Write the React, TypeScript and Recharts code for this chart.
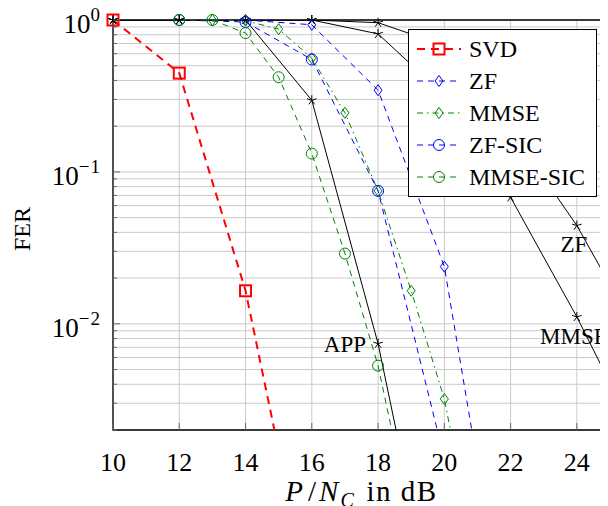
import React from "react";
import {
  LineChart,
  Line,
  XAxis,
  YAxis,
  CartesianGrid,
  Legend,
  ReferenceArea,
} from "recharts";

const FONT = "'Liberation Serif', 'DejaVu Serif', 'Times New Roman', serif";

// x axis ticks (dB) and log-axis grid values
const snrTicks = [10, 12, 14, 16, 18, 20, 22, 24];
const ferTicks = [
  0.002, 0.003, 0.004, 0.005, 0.006, 0.007, 0.008, 0.009,
  0.01, 0.02, 0.03, 0.04, 0.05, 0.06, 0.07, 0.08, 0.09,
  0.1, 0.2, 0.3, 0.4, 0.5, 0.6, 0.7, 0.8, 0.9,
  1,
];
const decadeExp: Record<number, string> = { 1: "0", 0.1: "\u22121", 0.01: "\u22122" };

// legend series
const svdSnr = [10, 12, 14, 16];
const svdFer = [1, 0.447, 0.0165, 0.00013];
const zfSnr = [14, 16, 18, 20, 22];
const zfFer = [1, 0.93, 0.345, 0.0238, 0.00006];
const mmseSnr = [13, 14, 15, 16, 17, 18, 19, 20, 21];
const mmseFer = [1, 0.99, 0.87, 0.56, 0.245, 0.075, 0.0165, 0.0032, 0.00025];
const zfSicSnr = [12, 14, 16, 18, 20];
const zfSicFer = [1, 0.97, 0.55, 0.075, 0.0013];
const mmseSicSnr = [12, 13, 14, 15, 16, 17, 18, 19];
const mmseSicFer = [1, 1, 0.82, 0.42, 0.132, 0.029, 0.0053, 0.0005];

// reference curves (black, labelled in the plot)
const appSnr = [10, 12, 14, 16, 18, 20];
const appFer = [1, 1, 1, 0.296, 0.0074, 0.00006];
const refSnr = [10, 12, 14, 16, 18, 20, 22, 24, 26];
const zfRefFer = [1, 1, 1, 1, 0.96, 0.68, 0.19, 0.0443, 0.0074];
const mmseRefFer = [1, 1, 1, 1, 0.81, 0.32, 0.068, 0.0111, 0.0015];

const toPoints = (snr: number[], fer: number[]) =>
  snr.map((s, i) => ({ snr: s, fer: fer[i] }));

type Shape = "square" | "diamond" | "circle" | "star";

function marker(shape: Shape, cx: number, cy: number, color: string, width: number) {
  if (shape === "square") {
    return <rect x={cx - 5.5} y={cy - 5.5} width={11} height={11} fill="none" stroke={color} strokeWidth={width} />;
  }
  if (shape === "diamond") {
    return (
      <polygon
        points={`${cx},${cy - 5.5} ${cx + 4},${cy} ${cx},${cy + 5.5} ${cx - 4},${cy}`}
        fill="none"
        stroke={color}
        strokeWidth={width}
      />
    );
  }
  if (shape === "circle") {
    return <circle cx={cx} cy={cy} r={5.5} fill="none" stroke={color} strokeWidth={width} />;
  }
  const spokes = [0, 1, 2, 3, 4].map((k) => {
    const a = ((-90 + k * 72) * Math.PI) / 180;
    return <line key={k} x1={cx} y1={cy} x2={cx + 5 * Math.cos(a)} y2={cy + 5 * Math.sin(a)} stroke={color} strokeWidth={width} />;
  });
  return <g>{spokes}</g>;
}

function MarkerDot(props: any) {
  const { cx, cy, index, kind, mcolor, mw, text, labelAt, ldx, ldy, anchor } = props;
  if (cx == null || cy == null) return null;
  return (
    <g>
      {marker(kind, cx, cy, mcolor, mw)}
      {text && index === labelAt && (
        <text x={cx + ldx} y={cy + ldy} textAnchor={anchor} fontFamily={FONT} fontSize={23} fill="#000">
          {text}
        </text>
      )}
    </g>
  );
}

// element-as-dot, with clipDot off so markers on the plot border are not cut in half
const dotOption = (el: React.ReactElement) => ({ ...(el as any), clipDot: false, r: 8 });

const series = [
  { name: "SVD", snr: svdSnr, fer: svdFer, color: "#ff0000", width: 2, dash: "8 6", shape: "square" as Shape, mw: 2 },
  { name: "ZF", snr: zfSnr, fer: zfFer, color: "#0000ff", width: 1, dash: "6 5", shape: "diamond" as Shape, mw: 1 },
  { name: "MMSE", snr: mmseSnr, fer: mmseFer, color: "#008000", width: 1, dash: "6 4 1.5 4", shape: "diamond" as Shape, mw: 1 },
  { name: "ZF-SIC", snr: zfSicSnr, fer: zfSicFer, color: "#0000ff", width: 1, dash: "6 5", shape: "circle" as Shape, mw: 1 },
  { name: "MMSE-SIC", snr: mmseSicSnr, fer: mmseSicFer, color: "#008000", width: 1, dash: "6 5", shape: "circle" as Shape, mw: 1 },
];

const references = [
  { name: "APP", snr: appSnr, fer: appFer, labelAt: 4, dx: -12, dy: 8, anchor: "end" },
  { name: "ZF", snr: refSnr, fer: zfRefFer, labelAt: 7, dx: -3, dy: 26, anchor: "middle" },
  { name: "MMSE", snr: refSnr, fer: mmseRefFer, labelAt: 7, dx: -3, dy: 27, anchor: "middle" },
];

function FerTick(props: any) {
  const { x, y, payload } = props;
  const exp = decadeExp[payload.value];
  const major = exp !== undefined;
  return (
    <g>
      <line x1={x} x2={x + (major ? 7 : 4)} y1={y} y2={y} stroke="#666" />
      {major && (
        <text x={x - 12} y={y + 13} textAnchor="end" fontFamily={FONT} fontSize={27} fill="#000">
          10
          <tspan dy={-12} fontSize={19} letterSpacing={1}>
            {exp}
          </tspan>
        </text>
      )}
    </g>
  );
}

function SnrTick(props: any) {
  const { x, y, payload } = props;
  return (
    <g>
      <line x1={x} x2={x} y1={y} y2={y - 7} stroke="#666" />
      <text x={x} y={y + 41} textAnchor="middle" fontFamily={FONT} fontSize={26} fill="#000">
        {payload.value}
      </text>
    </g>
  );
}

function LegendBox() {
  return (
    <div
      style={{
        boxSizing: "border-box",
        width: 189,
        background: "#fff",
        border: "1.3px solid #000",
        padding: "3px 6px 3px 8px",
        fontFamily: FONT,
        fontSize: 24,
        color: "#000",
      }}
    >
      {series.map((s) => (
        <div key={s.name} style={{ display: "flex", alignItems: "center", height: 32 }}>
          <svg width={44} height={20} style={{ marginRight: 8 }}>
            <line x1={0} x2={44} y1={10} y2={10} stroke={s.color} strokeWidth={s.width} strokeDasharray={s.dash} />
            {marker(s.shape, 22, 10, s.color, s.mw)}
          </svg>
          <span>{s.name}</span>
        </div>
      ))}
    </div>
  );
}

export default function App() {
  return (
    <div style={{ width: 600, height: 498, overflow: "hidden" }}>
      <LineChart width={610} height={498} margin={{ top: 12, right: 8, bottom: 0, left: 0 }}>
        <CartesianGrid stroke="#cbcbcb" strokeWidth={1} />
        <XAxis
          dataKey="snr"
          type="number"
          domain={[10, 25]}
          ticks={snrTicks}
          allowDataOverflow
          height={76}
          axisLine={false}
          tickLine={false}
          tickSize={0}
          tickMargin={0}
          tick={<SnrTick />}
          label={{
            content: (p: any) => {
              const vb = p.viewBox || { x: 105, y: 422, width: 497, height: 76 };
              return (
                <text x={vb.x + vb.width / 2} y={vb.y + 71} textAnchor="middle" fontFamily={FONT} fontSize={29} fill="#000">
                  <tspan fontStyle="italic">P</tspan>
                  <tspan dx={5}>/</tspan>
                  <tspan dx={3} fontStyle="italic">N</tspan>
                  <tspan dx={2} fontStyle="italic" fontSize={20} dy={6}>C</tspan>
                  <tspan dx={4} dy={-6} letterSpacing={1.5}> in dB</tspan>
                </text>
              );
            },
          }}
        />
        <YAxis
          type="number"
          scale="log"
          domain={[0.002, 1]}
          ticks={ferTicks}
          allowDataOverflow
          width={105}
          axisLine={false}
          tickLine={false}
          tickSize={0}
          tickMargin={0}
          interval={0}
          tick={<FerTick />}
          label={{
            content: (p: any) => {
              const vb = p.viewBox || { x: 0, y: 12, width: 105, height: 410 };
              const cy = vb.y + vb.height / 2 + 4;
              return (
                <text
                  x={14}
                  y={cy}
                  transform={`rotate(-90, 14, ${cy})`}
                  textAnchor="middle"
                  dominantBaseline="central"
                  fontFamily={FONT}
                  fontSize={24}
                  fill="#000"
                >
                  FER
                </text>
              );
            },
          }}
        />
        {references.map((r) => (
          <Line
            key={"ref-" + r.name}
            data={toPoints(r.snr, r.fer)}
            dataKey="fer"
            stroke="#000"
            strokeWidth={1}
            legendType="none"
            isAnimationActive={false}
            dot={dotOption(
              <MarkerDot r={8} kind="star" mcolor="#000" mw={1} text={r.name} labelAt={r.labelAt} ldx={r.dx} ldy={r.dy} anchor={r.anchor} />
            )}
          />
        ))}
        {series.map((s) => (
          <Line
            key={s.name}
            name={s.name}
            data={toPoints(s.snr, s.fer)}
            dataKey="fer"
            stroke={s.color}
            strokeWidth={s.width}
            strokeDasharray={s.dash}
            isAnimationActive={false}
            dot={dotOption(<MarkerDot r={8} kind={s.shape} mcolor={s.color} mw={s.mw} />)}
          />
        ))}
        <ReferenceArea x1={10} x2={25} y1={0.002} y2={1} fill="none" fillOpacity={0} stroke="#000" strokeWidth={1.3} />
        <Legend
          layout="vertical"
          align="center"
          verticalAlign="middle"
          content={<LegendBox />}
          wrapperStyle={{ left: 400, top: 21, width: 189 }}
        />
      </LineChart>
    </div>
  );
}
